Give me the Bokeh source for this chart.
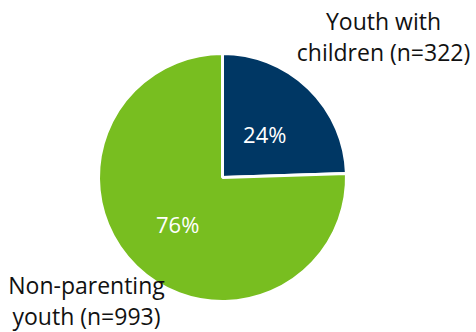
import math
from bokeh.plotting import figure
from bokeh.models import Range1d, ColumnDataSource
from bokeh.core.properties import value
from bokeh.embed import file_html
from bokeh.resources import INLINE

# Data
categories = ["Youth with children", "Non-parenting youth"]
counts = [322, 993]
pct_labels = ["24%", "76%"]
outer_labels = [["Youth with", "children (n=322)"], ["Non-parenting", "youth (n=993)"]]
colors = ["#003764", "#78BE20"]

W, H = 476, 332
p = figure(width=W, height=H, output_backend="svg", toolbar_location=None,
           x_range=Range1d(0, W), y_range=Range1d(0, H), min_border=0,
           outline_line_color=None)
p.axis.visible = False
p.grid.visible = False
p.background_fill_color = "white"
p.border_fill_color = "white"

def Y(y_from_top):
    return H - y_from_top

# geometry (centre given from the top-left corner)
cx, cy, r = 222, Y(177), 124
total = sum(counts)
starts, ends, mids = [], [], []
a = math.pi / 2   # 12 o'clock, going clockwise
for c in counts:
    sweep = 2 * math.pi * c / total
    starts.append(a)
    ends.append(a - sweep)
    mids.append(a - sweep / 2)
    a -= sweep

src = ColumnDataSource(dict(start=starts, end=ends, color=colors, cat=categories))
p.wedge(x=cx, y=cy, radius=r, start_angle="start", end_angle="end",
        direction="clock", fill_color="color", line_color="white",
        line_width=3, source=src)

# percentage labels
fr = [0.49, 0.52]
px = [cx + f * r * math.cos(m) for f, m in zip(fr, mids)]
py = [cy + f * r * math.sin(m) for f, m in zip(fr, mids)]
p.text(x=px, y=py, text=pct_labels, text_color="white",
       text_font=value("Open Sans"), text_font_size="22px",
       text_align="center", text_baseline="middle")

# outer labels (two lines each), anchor of first line from top
label_pos = [(383, 20), (86, 284)]
line_gap = 31.5
for (lx, ly), lines in zip(label_pos, outer_labels):
    p.text(x=[lx] * len(lines), y=[Y(ly + i * line_gap) for i in range(len(lines))],
           text=lines, text_color="#111111", text_font=value("Open Sans"),
           text_font_size="23px", text_align="center",
           text_baseline="alphabetic")

open("out.html", "w").write(file_html(p, INLINE))
